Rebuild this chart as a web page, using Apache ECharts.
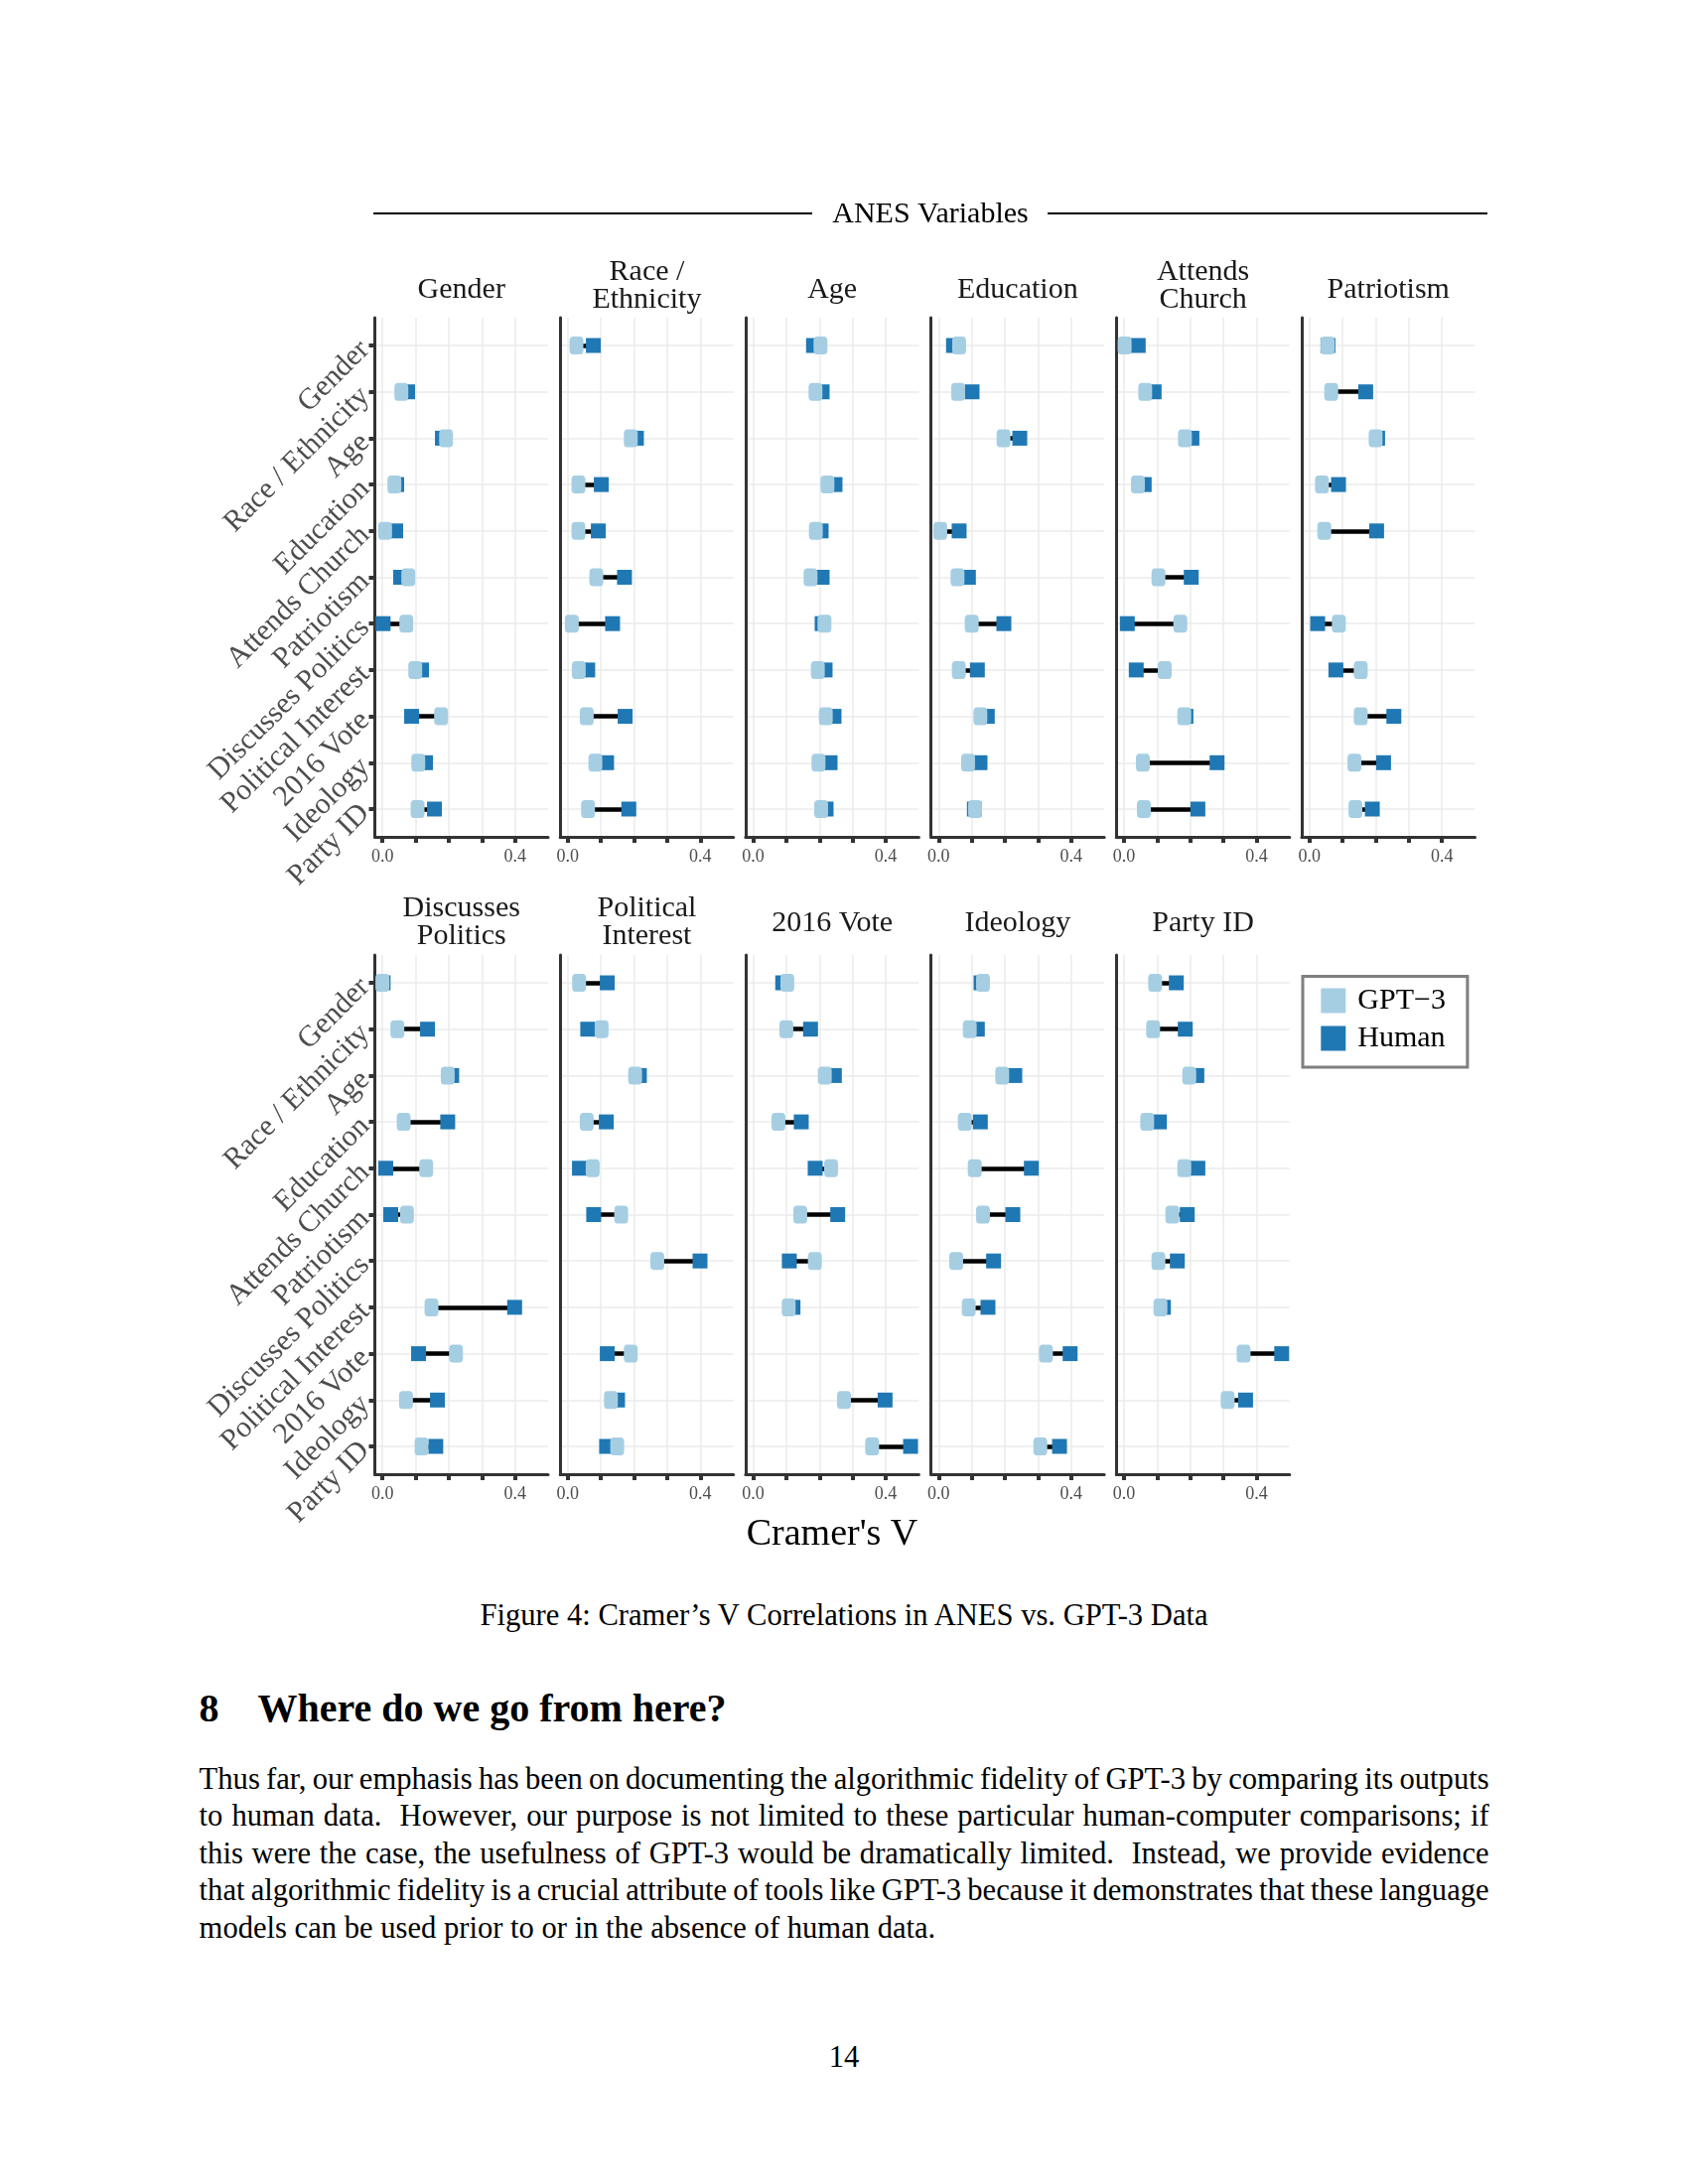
<!DOCTYPE html>
<html>
<head>
<meta charset="utf-8">
<script src="https://cdn.jsdelivr.net/npm/echarts@6/dist/echarts.min.js"></script>
<style>
html,body{margin:0;padding:0;background:#fff;}
#chart{position:absolute;left:0;top:0;width:1700px;height:1600px;}
.txt{position:absolute;font-family:"Liberation Serif","Times New Roman",serif;color:#000;}
.jl{text-align:justify;text-align-last:justify;height:37.5px;word-spacing:-5px;white-space:normal;}
</style>
</head>
<body>
<div id="chart"></div>
<div class="txt" style="left:0;width:1700px;top:1608px;text-align:center;font-size:30.6px;line-height:38px;">Figure 4: Cramer’s V Correlations in ANES vs. GPT-3 Data</div>
<div class="txt" style="left:200.6px;top:1698px;font-size:40px;line-height:46px;font-weight:bold;"><span style="display:inline-block;width:58.9px">8</span>Where do we go from here?</div>
<div class="txt" style="left:200.6px;top:1773.7px;width:1299px;font-size:30.6px;line-height:37.5px;">
<div class="jl">Thus far, our emphasis has been on documenting the algorithmic fidelity of GPT-3 by comparing its outputs</div>
<div class="jl">to human data.&nbsp; However, our purpose is not limited to these particular human-computer comparisons; if</div>
<div class="jl">this were the case, the usefulness of GPT-3 would be dramatically limited.&nbsp; Instead, we provide evidence</div>
<div class="jl">that algorithmic fidelity is a crucial attribute of tools like GPT-3 because it demonstrates that these language</div>
<div style="height:37.5px;">models can be used prior to or in the absence of human data.</div>
</div>
<div class="txt" style="left:0;width:1700px;top:2052.6px;text-align:center;font-size:30.6px;line-height:38px;">14</div>
<script>
// Row variables (y categories, top to bottom)
const rowVars = ['Gender','Race / Ethnicity','Age','Education','Attends Church','Patriotism','Discusses Politics','Political Interest','2016 Vote','Ideology','Party ID'];
// Panel (facet) titles
const panelTitles = ['Gender','Race /\nEthnicity','Age','Education','Attends\nChurch','Patriotism','Discusses\nPolitics','Political\nInterest','2016 Vote','Ideology','Party ID'];
// x-axis ticks and labels
const xTicks = [0, 0.1, 0.2, 0.3, 0.4];
const xTickLabels = [0, 0.4];
const seriesNames = ['GPT−3', 'Human'];

// Cramer's V values per panel, in rowVars order (null = the variable with itself)
const gpt3_gender      = [null, 0.057, 0.192, 0.036, 0.008, 0.078, 0.072, 0.099, 0.177, 0.108, 0.106];
const human_gender     = [null, 0.076, 0.181, 0.043, 0.040, 0.055, 0.002, 0.118, 0.088, 0.130, 0.157];
const gpt3_race        = [0.026, null, 0.190, 0.032, 0.032, 0.086, 0.012, 0.033, 0.057, 0.083, 0.061];
const human_race       = [0.077, null, 0.207, 0.101, 0.092, 0.171, 0.135, 0.060, 0.173, 0.117, 0.184];
const gpt3_age         = [0.203, 0.188, null, 0.224, 0.189, 0.173, 0.215, 0.195, 0.219, 0.197, 0.205];
const human_age        = [0.182, 0.208, null, 0.247, 0.205, 0.208, 0.208, 0.217, 0.244, 0.232, 0.220];
const gpt3_education   = [0.062, 0.059, 0.196, null, 0.005, 0.057, 0.100, 0.061, 0.126, 0.089, 0.110];
const human_education  = [0.045, 0.101, 0.245, null, 0.062, 0.090, 0.197, 0.117, 0.147, 0.125, 0.108];
const gpt3_church      = [0.002, 0.064, 0.184, 0.042, null, 0.104, 0.170, 0.123, 0.182, 0.057, 0.060];
const human_church     = [0.043, 0.091, 0.205, 0.061, null, 0.203, 0.010, 0.037, 0.187, 0.281, 0.223];
const gpt3_patriotism  = [0.055, 0.066, 0.200, 0.038, 0.045, null, 0.089, 0.155, 0.155, 0.136, 0.139];
const human_patriotism = [0.056, 0.170, 0.206, 0.088, 0.203, null, 0.025, 0.080, 0.255, 0.224, 0.190];
const gpt3_discusses   = [0.000, 0.045, 0.197, 0.064, 0.132, 0.074, null, 0.148, 0.222, 0.071, 0.118];
const human_discusses  = [0.002, 0.136, 0.209, 0.197, 0.010, 0.025, null, 0.399, 0.109, 0.166, 0.161];
const gpt3_interest    = [0.034, 0.102, 0.203, 0.057, 0.075, 0.161, 0.270, null, 0.190, 0.130, 0.149];
const human_interest   = [0.119, 0.060, 0.216, 0.116, 0.035, 0.078, 0.399, null, 0.119, 0.150, 0.117];
const gpt3_vote2016    = [0.103, 0.100, 0.216, 0.076, 0.235, 0.142, 0.186, 0.107, null, 0.274, 0.359];
const human_vote2016   = [0.089, 0.173, 0.245, 0.145, 0.187, 0.255, 0.109, 0.120, null, 0.398, 0.475];
const gpt3_ideology    = [0.134, 0.094, 0.192, 0.079, 0.109, 0.134, 0.053, 0.091, 0.324, null, 0.307];
const human_ideology   = [0.128, 0.117, 0.230, 0.126, 0.280, 0.224, 0.166, 0.149, 0.397, null, 0.365];
const gpt3_party       = [0.094, 0.088, 0.197, 0.070, 0.182, 0.146, 0.104, 0.110, 0.361, 0.313, null];
const human_party      = [0.158, 0.185, 0.220, 0.107, 0.223, 0.191, 0.161, 0.119, 0.476, 0.367, null];

const gptByPanel = [gpt3_gender, gpt3_race, gpt3_age, gpt3_education, gpt3_church, gpt3_patriotism,
                    gpt3_discusses, gpt3_interest, gpt3_vote2016, gpt3_ideology, gpt3_party];
const humanByPanel = [human_gender, human_race, human_age, human_education, human_church, human_patriotism,
                      human_discusses, human_interest, human_vote2016, human_ideology, human_party];

const FONT = '"Liberation Serif","Times New Roman",serif';
const LIGHT = '#a6cee3', DARK = '#1f78b4';
const rowIdx = rowVars.map((_, i) => i);

const grids = [], xAxes = [], yAxes = [], series = [], graphics = [];
panelTitles.forEach((title, i) => {
  const row = i < 6 ? 0 : 1;
  const col = i < 6 ? i : i - 6;
  const left = 377.5 + col * 186.7;
  const top = row === 0 ? 320 : 962;
  grids.push({left: left, top: top, width: 174.5, height: 523, containLabel: false, outerBoundsMode: 'none'});
  xAxes.push({
    type: 'value', gridIndex: i, min: -0.023, max: 0.5,
    axisLine: {show: true, onZero: false, lineStyle: {color: '#333333', width: 3}},
    axisTick: {show: true, customValues: xTicks, length: 6, lineStyle: {color: '#333333', width: 4}},
    axisLabel: {show: true, customValues: xTickLabels, formatter: v => Number(v).toFixed(1),
                fontSize: 18, color: '#4d4d4d', fontFamily: FONT, margin: 11},
    splitLine: {show: true, lineStyle: {color: '#ebebeb', width: 1.5}}
  });
  yAxes.push({
    type: 'value', gridIndex: i, inverse: true, min: -0.6, max: 10.6,
    axisLine: {show: true, onZero: false, lineStyle: {color: '#333333', width: 3}},
    axisTick: {show: col === 0, customValues: rowIdx, length: 6, lineStyle: {color: '#333333', width: 4}},
    axisLabel: {show: col === 0, customValues: rowIdx, formatter: v => rowVars[Math.round(v)],
                rotate: 45, fontSize: 30, color: '#4d4d4d', fontFamily: FONT, margin: 10},
    splitLine: {show: true, lineStyle: {color: '#ebebeb', width: 1.5}}
  });
  const g = gptByPanel[i], h = humanByPanel[i];
  const segs = [];
  rowIdx.forEach(r => { if (g[r] != null && h[r] != null) segs.push({coords: [[g[r], r], [h[r], r]]}); });
  series.push({type: 'lines', coordinateSystem: 'cartesian2d', xAxisIndex: i, yAxisIndex: i, data: segs,
               lineStyle: {color: '#000000', width: 4.5, opacity: 1, curveness: 0}, z: 2, silent: true});
  series.push({type: 'scatter', name: seriesNames[1], xAxisIndex: i, yAxisIndex: i,
               data: rowIdx.filter(r => h[r] != null).map(r => [h[r], r]),
               symbol: 'rect', symbolSize: [15, 15], itemStyle: {color: DARK, opacity: 1}, z: 3, silent: true});
  series.push({type: 'scatter', name: seriesNames[0], xAxisIndex: i, yAxisIndex: i,
               data: rowIdx.filter(r => g[r] != null).map(r => [g[r], r]),
               symbol: 'roundRect', symbolSize: [14, 18], itemStyle: {color: LIGHT, opacity: 1}, z: 4, silent: true});
  // facet strip title
  const twoLine = title.indexOf('\n') >= 0;
  const cy = row === 0 ? (twoLine ? 288 : 292) : (twoLine ? 929.5 : 930);
  graphics.push({type: 'text', x: left + 87.25, y: cy, silent: true,
    style: {text: title, fill: '#1a1a1a', font: '30px ' + FONT, align: 'center', verticalAlign: 'middle', lineHeight: 28}});
});

graphics.push({type: 'line', shape: {x1: 376, y1: 215, x2: 818, y2: 215}, style: {stroke: '#000', lineWidth: 2}, silent: true});
graphics.push({type: 'line', shape: {x1: 1055, y1: 215, x2: 1498, y2: 215}, style: {stroke: '#000', lineWidth: 2}, silent: true});
graphics.push({type: 'text', x: 937, y: 216.5, silent: true,
  style: {text: 'ANES Variables', fill: '#000', font: '30px ' + FONT, align: 'center', verticalAlign: 'middle'}});
graphics.push({type: 'text', x: 838, y: 1546, silent: true,
  style: {text: "Cramer's V", fill: '#000', font: '38px ' + FONT, align: 'center', verticalAlign: 'middle'}});

const chart = echarts.init(document.getElementById('chart'), null, {renderer: 'canvas'});
chart.setOption({
  animation: false,
  backgroundColor: '#ffffff',
  grid: grids,
  xAxis: xAxes,
  yAxis: yAxes,
  legend: {
    data: seriesNames, orient: 'vertical', left: 1312, top: 983.5,
    icon: 'rect', itemWidth: 25, itemHeight: 25, itemGap: 8,
    borderColor: '#7f7f7f', borderWidth: 3, padding: [9.5, 22, 14, 18.3],
    selectedMode: false,
    textStyle: {fontSize: 30, fontFamily: FONT, color: '#000', padding: [3, 0, 0, 7]}
  },
  graphic: graphics,
  series: series
});
</script>
</body>
</html>
